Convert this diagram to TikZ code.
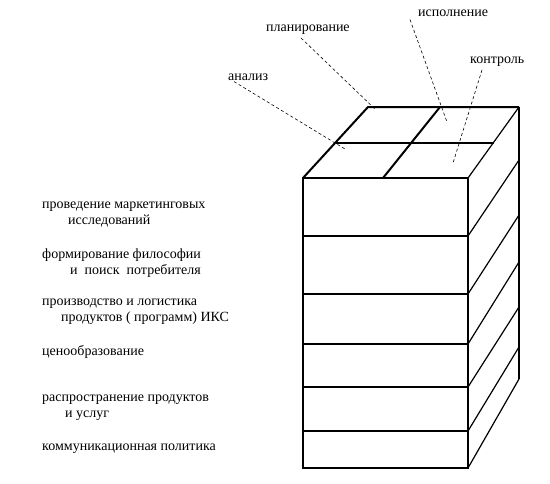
\documentclass[tikz,border=0pt]{standalone}
\usepackage{fontspec}
\setmainfont{Liberation Serif}
\usetikzlibrary{positioning}

\begin{document}
\begin{tikzpicture}[x=1pt,y=-1pt,
  edge/.style={line width=2pt},
  side/.style={line width=1.2pt},
  lead/.style={dash pattern=on 3pt off 2.5pt, line width=0.6pt},
  lbl/.style={anchor=west, inner sep=0pt, align=left, font=\fontsize{14}{16}\selectfont}]

  \useasboundingbox (0,0) rectangle (550,483);

  % corners of the block
  \coordinate (f1) at (303,178);
  \coordinate (f2) at (468,178);
  \coordinate (f3) at (468,468);
  \coordinate (f4) at (303,468);
  \coordinate (b1) at (368,107);
  \coordinate (b2) at (519,107);
  \coordinate (b3) at (519,379);

  % front face and layers
  \draw[edge] (f1) -- (f2) -- (f3) -- (f4) -- cycle;
  \foreach \y in {236,294,344,387,431}
    \draw[edge] (303,\y) -- (468,\y);

  % side face
  \foreach \a/\b in {236/160,294/215,344/262,387/307,431/347,468/379}
    \draw[side] (468,\a) -- (519,\b);
  \draw[side] (f2) -- (b2);
  \draw[edge] (b2) -- (b3);

  % top face, four parts
  \draw[edge] (f1) -- (b1) -- (b2);
  \draw[edge] (336,143) -- (494,143);
  \draw[edge] (440,107) -- (383,178);

  % names of the four parts
  \node[lbl] (1) at (228,77) {анализ};
  \node[lbl] (2) at (266,30) {планирование};
  \node[lbl] (3) at (418,13) {исполнение};
  \node[lbl] (4) at (470,62) {контроль};

  \coordinate (c1) at (345,149);
  \coordinate (c2) at (376,110);
  \coordinate (c3) at (447,122);
  \coordinate (c4) at (453,163);

  \draw[lead] ([xshift=6pt,yshift=-1pt]1.south west) -- (c1);
  \draw[lead] ([xshift=35pt,yshift=-3pt]2.south west) -- (c2);
  \draw[lead] ([xshift=-8pt,yshift=-3pt]3.south west) -- (c3);
  \draw[lead] ([xshift=12pt,yshift=-3pt]4.south west) -- (c4);

  % layers
  \node[lbl] (5) at (42,214.5) {проведение маркетинговых\\\hspace*{26pt}исследований};
  \node[lbl] (6) at (42,263) {формирование философии\\\hspace*{28pt}и\ \ поиск\ \ потребителя};
  \node[lbl] (7) at (42,311.5) {производство и логистика\\\hspace*{19pt}продуктов ( программ) ИКС};
  \node[lbl] (8) at (42,352) {ценообразование};
  \node[lbl] (9) at (42,408) {распространение продуктов\\\hspace*{23pt}и услуг};
  \node[lbl] (10) at (42,448.5) {коммуникационная политика};

\end{tikzpicture}
\end{document}
